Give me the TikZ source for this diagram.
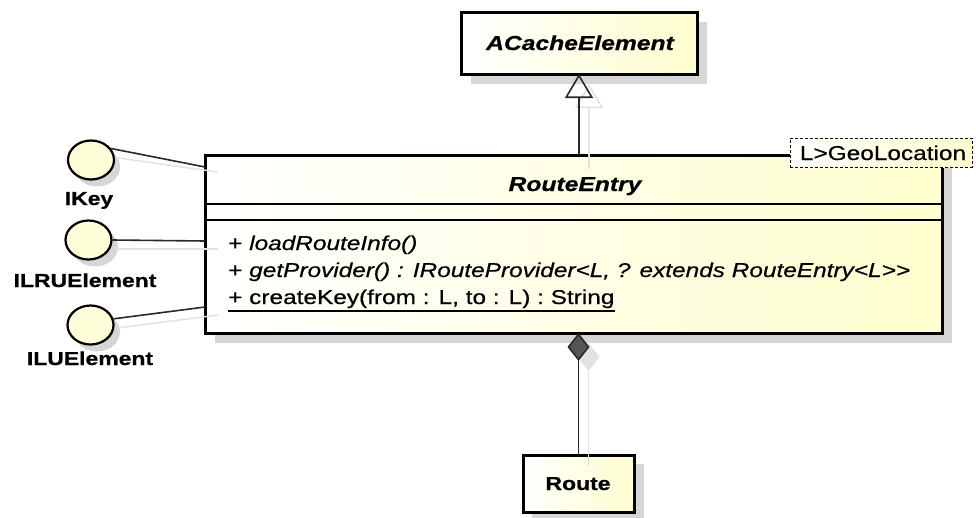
\documentclass[tikz,border=0pt]{standalone}
\usepackage{fontspec}
\setmainfont{Liberation Sans}[FakeStretch=1.22, Ligatures=TeXOff,
  UprightFeatures={FakeBold=0.5}, ItalicFeatures={FakeBold=0.5},
  BoldFeatures={FakeBold=0.7}, BoldItalicFeatures={FakeBold=0.7}]
\usetikzlibrary{arrows.meta,shapes.geometric}

\definecolor{umlfill}{RGB}{254,254,206}
\definecolor{umlshade}{RGB}{214,214,214}
\definecolor{umlline}{RGB}{40,40,40}
\definecolor{umldiamond}{RGB}{85,85,85}

\newcommand\umltext{\fontsize{20pt}{23pt}\selectfont}
\newcommand\umllabel{\fontsize{18.8pt}{22pt}\selectfont\bfseries}
\newcommand\umltitle{\fontsize{20.2pt}{23pt}\selectfont\bfseries\itshape}

\begin{document}
\begin{tikzpicture}[x=1pt,y=-1pt,
  classbox/.style={draw=black, line width=3pt, left color=white, right color=umlfill,
    inner sep=0pt, outer sep=0pt},
  iface/.style={ellipse, draw=black, line width=2.2pt, fill=umlfill!80,
    minimum width=46pt, minimum height=39pt, inner sep=0pt},
  ifaceshadow/.style={ellipse, fill=umlshade, draw=none,
    minimum width=46pt, minimum height=39pt, inner sep=0pt},
  ifacelabel/.style={anchor=base, inner sep=0pt, font=\umllabel},
  member/.style={anchor=base west, inner sep=0pt, font=\umltext},
  conn/.style={draw=umlline, line width=1.6pt},
  connshadow/.style={draw=umlshade!70, line width=1.5pt},
  sep/.style={draw=black, line width=1.5pt}
]
\useasboundingbox (0,0) rectangle (976,517);

% drop shadows of the class boxes
\fill[umlshade] (471,22) rectangle (707,84);
\fill[umlshade] (215,165) rectangle (952,343);
\fill[umlshade] (532,464) rectangle (644,522);

% class boxes
\node[classbox, minimum width=236pt, minimum height=62pt] (ace) at (579,43) {};
\node[anchor=base, inner sep=0pt, font=\umltitle] (acet) at (580,50) {ACacheElement};

\node[classbox, minimum width=737pt, minimum height=178pt] (re) at (573.5,244) {};
\node[anchor=base, inner sep=0pt, font=\umltitle] (ret) at (575,191) {RouteEntry};
\draw[sep] ([yshift=-49pt]re.north west) -- ([yshift=-49pt]re.north east);
\draw[sep] ([yshift=-65pt]re.north west) -- ([yshift=-65pt]re.north east);

\node[member] (m1) at (228,250) {+ \textit{loadRouteInfo()}};
\node[member] (m2) at (228,277) {+ \textit{getProvider() : IRouteProvider<L, ? extends RouteEntry<L>>}};
\node[member] (m3) at (228,304) {+ createKey(from : L, to : L) : String};
\draw[line width=1.2pt] ([yshift=-7pt]m3.base west) -- ([yshift=-7pt]m3.base east);

% template parameter
\node[draw=black, dashed, dash pattern=on 3pt off 2pt, line width=1pt,
  left color=white, right color=umlfill, inner sep=0pt,
  minimum width=182pt, minimum height=29pt] (tp) at (881,152.5) {};
\node[anchor=base, inner sep=0pt, font=\umltext] (tpt) at (883,160) {L>GeoLocation};

\node[classbox, minimum width=111pt, minimum height=57pt] (route) at (578.5,483.5) {};
\node[anchor=base, inner sep=0pt, font=\umllabel] (routet) at (578,490) {Route};

% provided interfaces
\node[ifaceshadow] (ikeys) at (97,167) {};
\node[ifaceshadow] (ilrus) at (95,247) {};
\node[ifaceshadow] (ilus) at (97,332) {};
\node[iface] (ikey) at (91,160) {};
\node[iface] (ilru) at (88.5,240) {};
\node[iface] (ilu) at (90.5,325) {};
\node[ifacelabel] (ikeyl) at (89,205) {IKey};
\node[ifacelabel] (ilrul) at (85,287) {ILRUElement};
\node[ifacelabel] (ilul) at (90,365) {ILUElement};

\coordinate (k1) at (205,167);
\coordinate (k2) at (205,241);
\coordinate (k3) at (205,307);

\draw[connshadow] ([xshift=4pt,yshift=-9pt]ikey.30) -- ([xshift=13pt,yshift=-5pt]k1);
\draw[connshadow] ([xshift=4pt,yshift=-9pt]ilru.east) -- ([xshift=13pt,yshift=-8pt]k2);
\draw[connshadow] ([xshift=5pt,yshift=-9pt]ilu.15) -- ([xshift=13pt,yshift=-8pt]k3);

\draw[conn] (ikey.30) -- (k1);
\draw[conn] (ilru.east) -- (k2);
\draw[conn] (ilu.15) -- (k3);

% generalization to ACacheElement
\draw[connshadow, -{Triangle[open, length=24pt 0 0, width=28pt 0 0]}]
  ([xshift=10pt,yshift=-14pt]re.north -| ace.south) -- ([xshift=10pt,yshift=-10pt]ace.south);
\draw[conn, -{Triangle[open, length=24pt 0 0, width=28pt 0 0]}]
  (re.north -| ace.south) -- (ace.south);

% composition with Route
\draw[connshadow, {Diamond[length=28pt 0 0, width=22pt 0 0, fill=umlshade!70]}-]
  ([xshift=10pt,yshift=-10pt]re.south -| route.north) -- ([xshift=10pt,yshift=-12pt]route.north);
\draw[conn, {Diamond[length=28pt 0 0, width=22pt 0 0, fill=umldiamond]}-]
  (re.south -| route.north) -- (route.north);
\end{tikzpicture}
\end{document}
